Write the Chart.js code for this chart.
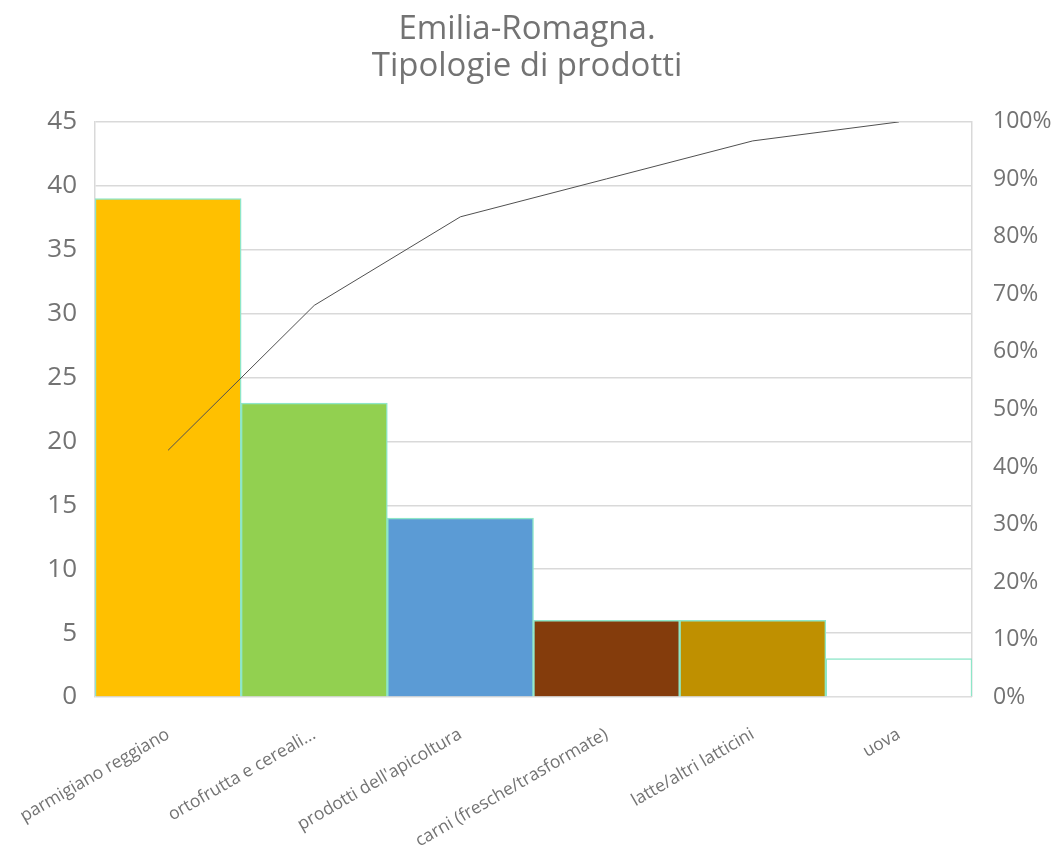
<!DOCTYPE html>
<html>
<head>
<meta charset="utf-8">
<script src="https://cdn.jsdelivr.net/npm/chart.js@4"></script>
<style>
  html, body { margin: 0; padding: 0; background: #ffffff; }
  #wrap { width: 1054px; height: 852px; }
</style>
</head>
<body>
<div id="wrap"><canvas id="c" width="1054" height="852"></canvas></div>
<script>
const categories = ["parmigiano reggiano", "ortofrutta e cereali...", "prodotti dell'apicoltura", "carni (fresche/trasformate)", "latte/altri latticini", "uova"];
const counts = [39, 23, 14, 6, 6, 3];
const cumulativePct = [42.9, 68.1, 83.5, 90.1, 96.7, 100];
const barColors = ["#FFC000", "#92D050", "#5B9BD5", "#843C0C", "#BF9000", "#FFFFFF"];
const titleLines = ["Emilia-Romagna.", "Tipologie di prodotti"];

const textColor = "#737373";
const gridColor = "#d9d9d9";

new Chart(document.getElementById("c"), {
  data: {
    labels: categories,
    datasets: [
      {
        type: "line",
        data: cumulativePct,
        yAxisID: "y1",
        borderColor: "#505050",
        borderWidth: 1,
        pointRadius: 0,
        tension: 0,
        fill: false,
        order: 0
      },
      {
        type: "bar",
        data: counts,
        yAxisID: "y",
        backgroundColor: barColors,
        borderColor: "#8EE6C8",
        borderWidth: 1.5,
        categoryPercentage: 1,
        barPercentage: 1,
        order: 1
      }
    ]
  },
  options: {
    responsive: false,
    animation: false,
    layout: { padding: 0 },
    plugins: {
      legend: { display: false },
      tooltip: { enabled: false },
      title: {
        display: true,
        text: titleLines,
        color: textColor,
        font: { family: "'Open Sans'", size: 33, weight: "normal", lineHeight: 1.12 },
        padding: { top: 11, bottom: 37 }
      }
    },
    scales: {
      x: {
        grid: { display: false, drawTicks: false },
        border: { display: false },
        ticks: {
          color: textColor,
          font: { family: "'Open Sans'", size: 17.5 },
          maxRotation: 30,
          minRotation: 30,
          autoSkip: false,
          padding: 27
        },
        afterFit: (s) => {
          s.height = 155;
          s.paddingLeft = 0;
          s.paddingRight = 0;
        }
      },
      y: {
        position: "left",
        min: 0,
        max: 45,
        ticks: {
          stepSize: 5,
          color: textColor,
          font: { family: "'Open Sans'", size: 26 },
          padding: 18
        },
        grid: { color: gridColor, lineWidth: 1.5, drawTicks: false },
        border: { display: true, color: gridColor, width: 1.5 },
        afterFit: (s) => { s.width = 95; }
      },
      y1: {
        position: "right",
        min: 0,
        max: 100,
        ticks: {
          stepSize: 10,
          color: textColor,
          font: { family: "'Open Sans'", size: 23 },
          padding: 21,
          callback: (v) => v + "%"
        },
        grid: { display: false, drawTicks: false },
        border: { display: true, color: gridColor, width: 1.5 },
        afterFit: (s) => { s.width = 82; }
      }
    }
  }
});
</script>
</body>
</html>
